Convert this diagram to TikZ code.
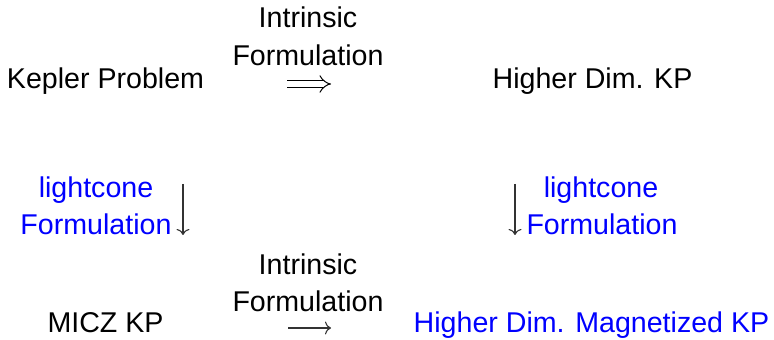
\documentclass[tikz,border=0pt]{standalone}
\usepackage{fontspec}
\setmainfont{Liberation Sans}
\usetikzlibrary{arrows.meta}
\definecolor{lblblue}{RGB}{0,0,255}
\begin{document}
\begin{tikzpicture}[x=0.5pt,y=-0.5pt,
  txt/.style={anchor=base,inner sep=0pt,font=\fontsize{14.3}{17}\selectfont},
  bluetxt/.style={txt,text=lblblue},
  sarrow/.style={line width=0.55pt,draw=black!80,-{To[length=3pt,width=6.5pt]}},
  darrow/.style={double distance=2.6pt,line width=0.5pt,-{Implies}}]
\useasboundingbox (0,0) rectangle (774,340);
% corner nodes
\node[txt] (kp) at (105.5,89) {Kepler Problem};
\node[txt] (hkp) at (592.5,89) {Higher Dim. KP};
\node[txt] (micz) at (105.5,333) {MICZ KP};
\node[bluetxt] (hmkp) at (591.5,333) {Higher Dim. Magnetized KP};
% horizontal labels
\node[txt] (ti1) at (308,28) {Intrinsic};
\node[txt] (ti2) at (308,66) {Formulation};
\node[txt] (bi1) at (308,275) {Intrinsic};
\node[txt] (bi2) at (308,312) {Formulation};
% vertical labels
\node[bluetxt] (ll1) at (96,198) {lightcone};
\node[bluetxt] (ll2) at (96,235) {Formulation};
\node[bluetxt] (rl1) at (601,198) {lightcone};
\node[bluetxt] (rl2) at (602,235) {Formulation};
% arrow end points
\coordinate (ta) at (287,84);
\coordinate (tb) at (331,84);
\coordinate (ba) at (288,328);
\coordinate (bb) at (331,328);
\coordinate (la) at (183,184);
\coordinate (lb) at (183,235);
\coordinate (ra) at (515,184);
\coordinate (rb) at (515,235);
\draw[darrow] (ta) -- (tb);
\draw[sarrow] (ba) -- (bb);
\draw[sarrow] (la) -- (lb);
\draw[sarrow] (ra) -- (rb);
\end{tikzpicture}
\end{document}
